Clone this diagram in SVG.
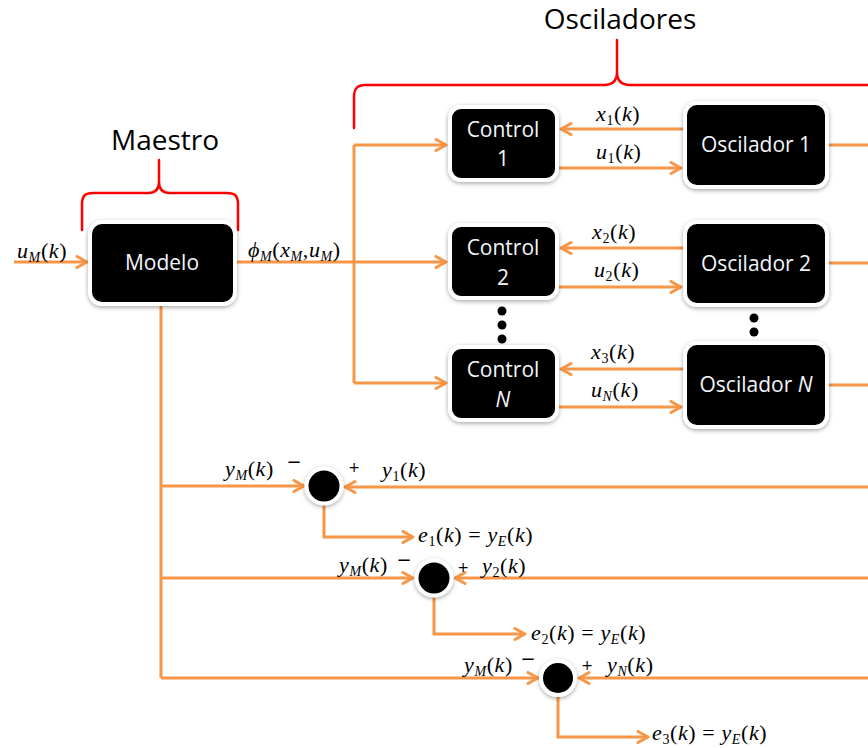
<svg xmlns="http://www.w3.org/2000/svg" width="868" height="748" viewBox="0 0 868 748">
  <defs>
    <filter id="sh" x="-20%" y="-20%" width="140%" height="140%">
      <feDropShadow dx="0" dy="1.5" stdDeviation="2" flood-color="#000" flood-opacity="0.35"/>
    </filter>
    <marker id="ah" markerUnits="userSpaceOnUse" markerWidth="16" markerHeight="16" refX="12" refY="7" orient="auto">
      <path d="M2,1.5 L12,7 L2,12.5" fill="none" stroke="#F79646" stroke-width="3" stroke-linecap="round" stroke-linejoin="round"/>
    </marker>
    <style>
      .bx { fill: #000; stroke: #fff; stroke-width: 4; filter: url(#sh); }
      .sj { fill: #000; stroke: #fff; stroke-width: 4; filter: url(#sh); }
      .lb { font-family: "Open Sans", "Liberation Sans", sans-serif; font-size: 21px; fill: #f2f6fb; text-anchor: middle; }
      .tt { font-family: "Open Sans", "Liberation Sans", sans-serif; font-size: 28px; fill: #000; text-anchor: middle; }
      .ln { fill: none; stroke: #F79646; stroke-width: 3; }
      .ar { marker-end: url(#ah); }
      .br { fill: none; stroke: #ff0000; stroke-width: 2.5; stroke-linecap: round; }
      .m { font-family: "Liberation Serif", "Times New Roman", serif; font-size: 22px; fill: #000; letter-spacing: 0.6px; }
      .i { font-style: italic; }
      .sb { font-size: 14px; }
      .mn { font-family: "DejaVu Sans", sans-serif; font-size: 18px; fill: #000; text-anchor: middle; }
      .pl { font-family: "DejaVu Sans", sans-serif; font-size: 14px; fill: #000; text-anchor: middle; }
      .dot { fill: #000; }
    </style>
  </defs>

  <rect width="868" height="748" fill="#fff"/>

  <!-- group braces and titles -->
  <g id="maestro">
    <text class="tt" x="165" y="150">Maestro</text>
    <path class="br" d="M82,230 L82,204 C82,196 85,193 93,193 L148,193 C155,193 159,190 159,182 L159,160 M159,160 L159,182 C159,190 163,193 170,193 L227,193 C235,193 238,196 238,204 L238,230"/>
  </g>
  <g id="osciladores">
    <text class="tt" x="620" y="29">Osciladores</text>
    <path class="br" d="M354,128 L354,97 C354,89 357,85 365,85 L604,85 C612,85 617,81 617,72 L617,40 M617,40 L617,72 C617,81 622,85 630,85 L872,85"/>
  </g>

  <!-- connectors -->
  <g id="connectors">
    <path class="ln ar" d="M14,262 L87,262"/>
    <path class="ln ar" d="M235,262 L446,262"/>
    <path class="ln" d="M354,145 L354,383"/>
    <path class="ln ar" d="M354,145 L446,145"/>
    <path class="ln ar" d="M354,383 L446,383"/>

    <path class="ln ar" d="M685,129 L561,129"/>
    <path class="ln ar" d="M557,168 L681,168"/>
    <path class="ln ar" d="M685,248 L561,248"/>
    <path class="ln ar" d="M557,287 L681,287"/>
    <path class="ln ar" d="M685,369 L561,369"/>
    <path class="ln ar" d="M557,407 L681,407"/>

    <path class="ln" d="M827,145 L868,145"/>
    <path class="ln" d="M827,263 L868,263"/>
    <path class="ln" d="M827,385 L868,385"/>

    <path class="ln" d="M161,306 L161,678"/>
    <path class="ln ar" d="M161,486 L304,486"/>
    <path class="ln ar" d="M161,578 L413,578"/>
    <path class="ln ar" d="M161,678 L538,678"/>

    <path class="ln ar" d="M868,487 L345,487"/>
    <path class="ln ar" d="M868,578 L455,578"/>
    <path class="ln ar" d="M868,678 L579,678"/>

    <path class="ln ar" d="M324,504 L324,537 L413,537"/>
    <path class="ln ar" d="M434,596 L434,634 L525,634"/>
    <path class="ln ar" d="M558,696 L558,737 L648,737"/>
  </g>

  <!-- master model -->
  <g id="modelo">
    <rect class="bx" x="90" y="222" width="145" height="82" rx="12"/>
    <text class="lb" x="162" y="270">Modelo</text>
  </g>

  <!-- controllers -->
  <g id="control1">
    <rect class="bx" x="450" y="107" width="107" height="73" rx="11"/>
    <text class="lb" x="503" y="137">Control</text>
    <text class="lb" x="503" y="166">1</text>
  </g>
  <g id="control2">
    <rect class="bx" x="450" y="225" width="107" height="73" rx="11"/>
    <text class="lb" x="503" y="255">Control</text>
    <text class="lb" x="503" y="285">2</text>
  </g>
  <g id="controlN">
    <rect class="bx" x="450" y="347" width="107" height="73" rx="11"/>
    <text class="lb" x="503" y="377">Control</text>
    <text class="lb" x="503" y="407" font-style="italic">N</text>
  </g>

  <!-- oscillators -->
  <g id="oscilador1">
    <rect class="bx" x="685" y="103" width="142" height="84" rx="12"/>
    <text class="lb" x="756" y="152">Oscilador 1</text>
  </g>
  <g id="oscilador2">
    <rect class="bx" x="685" y="222" width="142" height="83" rx="12"/>
    <text class="lb" x="756" y="271">Oscilador 2</text>
  </g>
  <g id="osciladorN">
    <rect class="bx" x="685" y="343" width="142" height="84" rx="12"/>
    <text class="lb" x="756" y="392">Oscilador <tspan font-style="italic">N</tspan></text>
  </g>

  <!-- ellipsis dots -->
  <g id="dots">
    <circle class="dot" cx="502" cy="311" r="4.5"/>
    <circle class="dot" cx="502" cy="325" r="4.5"/>
    <circle class="dot" cx="502" cy="339" r="4.5"/>
    <circle class="dot" cx="754" cy="318" r="4.5"/>
    <circle class="dot" cx="754" cy="332" r="4.5"/>
  </g>

  <!-- summing junctions with their sign marks -->
  <g id="sum1">
    <circle class="sj" cx="324" cy="486" r="17.5"/>
    <text class="mn" x="294" y="468">−</text>
    <text class="pl" x="354" y="472">+</text>
  </g>
  <g id="sum2">
    <circle class="sj" cx="434" cy="578" r="17.5"/>
    <text class="mn" x="404" y="566">−</text>
    <text class="pl" x="463" y="572">+</text>
  </g>
  <g id="sum3">
    <circle class="sj" cx="558" cy="678" r="17"/>
    <text class="mn" x="528" y="665">−</text>
    <text class="pl" x="587" y="670">+</text>
  </g>

  <!-- signal labels -->
  <g id="labels">
    <text class="m" x="17" y="258"><tspan class="i">u</tspan><tspan class="i sb" dy="4">M</tspan><tspan dy="-4">(</tspan><tspan class="i">k</tspan>)</text>
    <text class="m" x="248" y="257"><tspan class="i">ϕ</tspan><tspan class="i sb" dy="4">M</tspan><tspan dy="-4">(</tspan><tspan class="i">x</tspan><tspan class="i sb" dy="4">M</tspan><tspan dy="-4">,</tspan><tspan class="i">u</tspan><tspan class="i sb" dy="4">M</tspan><tspan dy="-4">)</tspan></text>

    <text class="m" x="596" y="121"><tspan class="i">x</tspan><tspan class="sb" dy="4">1</tspan><tspan dy="-4">(</tspan><tspan class="i">k</tspan>)</text>
    <text class="m" x="596" y="159"><tspan class="i">u</tspan><tspan class="sb" dy="4">1</tspan><tspan dy="-4">(</tspan><tspan class="i">k</tspan>)</text>
    <text class="m" x="592" y="239"><tspan class="i">x</tspan><tspan class="sb" dy="4">2</tspan><tspan dy="-4">(</tspan><tspan class="i">k</tspan>)</text>
    <text class="m" x="594" y="277"><tspan class="i">u</tspan><tspan class="sb" dy="4">2</tspan><tspan dy="-4">(</tspan><tspan class="i">k</tspan>)</text>
    <text class="m" x="591" y="359"><tspan class="i">x</tspan><tspan class="sb" dy="4">3</tspan><tspan dy="-4">(</tspan><tspan class="i">k</tspan>)</text>
    <text class="m" x="591" y="397"><tspan class="i">u</tspan><tspan class="i sb" dy="4">N</tspan><tspan dy="-4">(</tspan><tspan class="i">k</tspan>)</text>

    <text class="m" x="225" y="476"><tspan class="i">y</tspan><tspan class="i sb" dy="4">M</tspan><tspan dy="-4">(</tspan><tspan class="i">k</tspan>)</text>
    <text class="m" x="382" y="477"><tspan class="i">y</tspan><tspan class="sb" dy="4">1</tspan><tspan dy="-4">(</tspan><tspan class="i">k</tspan>)</text>
    <text class="m" x="418" y="542"><tspan class="i">e</tspan><tspan class="sb" dy="4">1</tspan><tspan dy="-4">(</tspan><tspan class="i">k</tspan>) = <tspan class="i">y</tspan><tspan class="i sb" dy="4">E</tspan><tspan dy="-4">(</tspan><tspan class="i">k</tspan>)</text>

    <text class="m" x="339" y="572"><tspan class="i">y</tspan><tspan class="i sb" dy="4">M</tspan><tspan dy="-4">(</tspan><tspan class="i">k</tspan>)</text>
    <text class="m" x="482" y="573"><tspan class="i">y</tspan><tspan class="sb" dy="4">2</tspan><tspan dy="-4">(</tspan><tspan class="i">k</tspan>)</text>
    <text class="m" x="531" y="640"><tspan class="i">e</tspan><tspan class="sb" dy="4">2</tspan><tspan dy="-4">(</tspan><tspan class="i">k</tspan>) = <tspan class="i">y</tspan><tspan class="i sb" dy="4">E</tspan><tspan dy="-4">(</tspan><tspan class="i">k</tspan>)</text>

    <text class="m" x="464" y="672"><tspan class="i">y</tspan><tspan class="i sb" dy="4">M</tspan><tspan dy="-4">(</tspan><tspan class="i">k</tspan>)</text>
    <text class="m" x="607" y="672"><tspan class="i">y</tspan><tspan class="i sb" dy="4">N</tspan><tspan dy="-4">(</tspan><tspan class="i">k</tspan>)</text>
    <text class="m" x="652" y="740"><tspan class="i">e</tspan><tspan class="sb" dy="4">3</tspan><tspan dy="-4">(</tspan><tspan class="i">k</tspan>) = <tspan class="i">y</tspan><tspan class="i sb" dy="4">E</tspan><tspan dy="-4">(</tspan><tspan class="i">k</tspan>)</text>
  </g>
</svg>
